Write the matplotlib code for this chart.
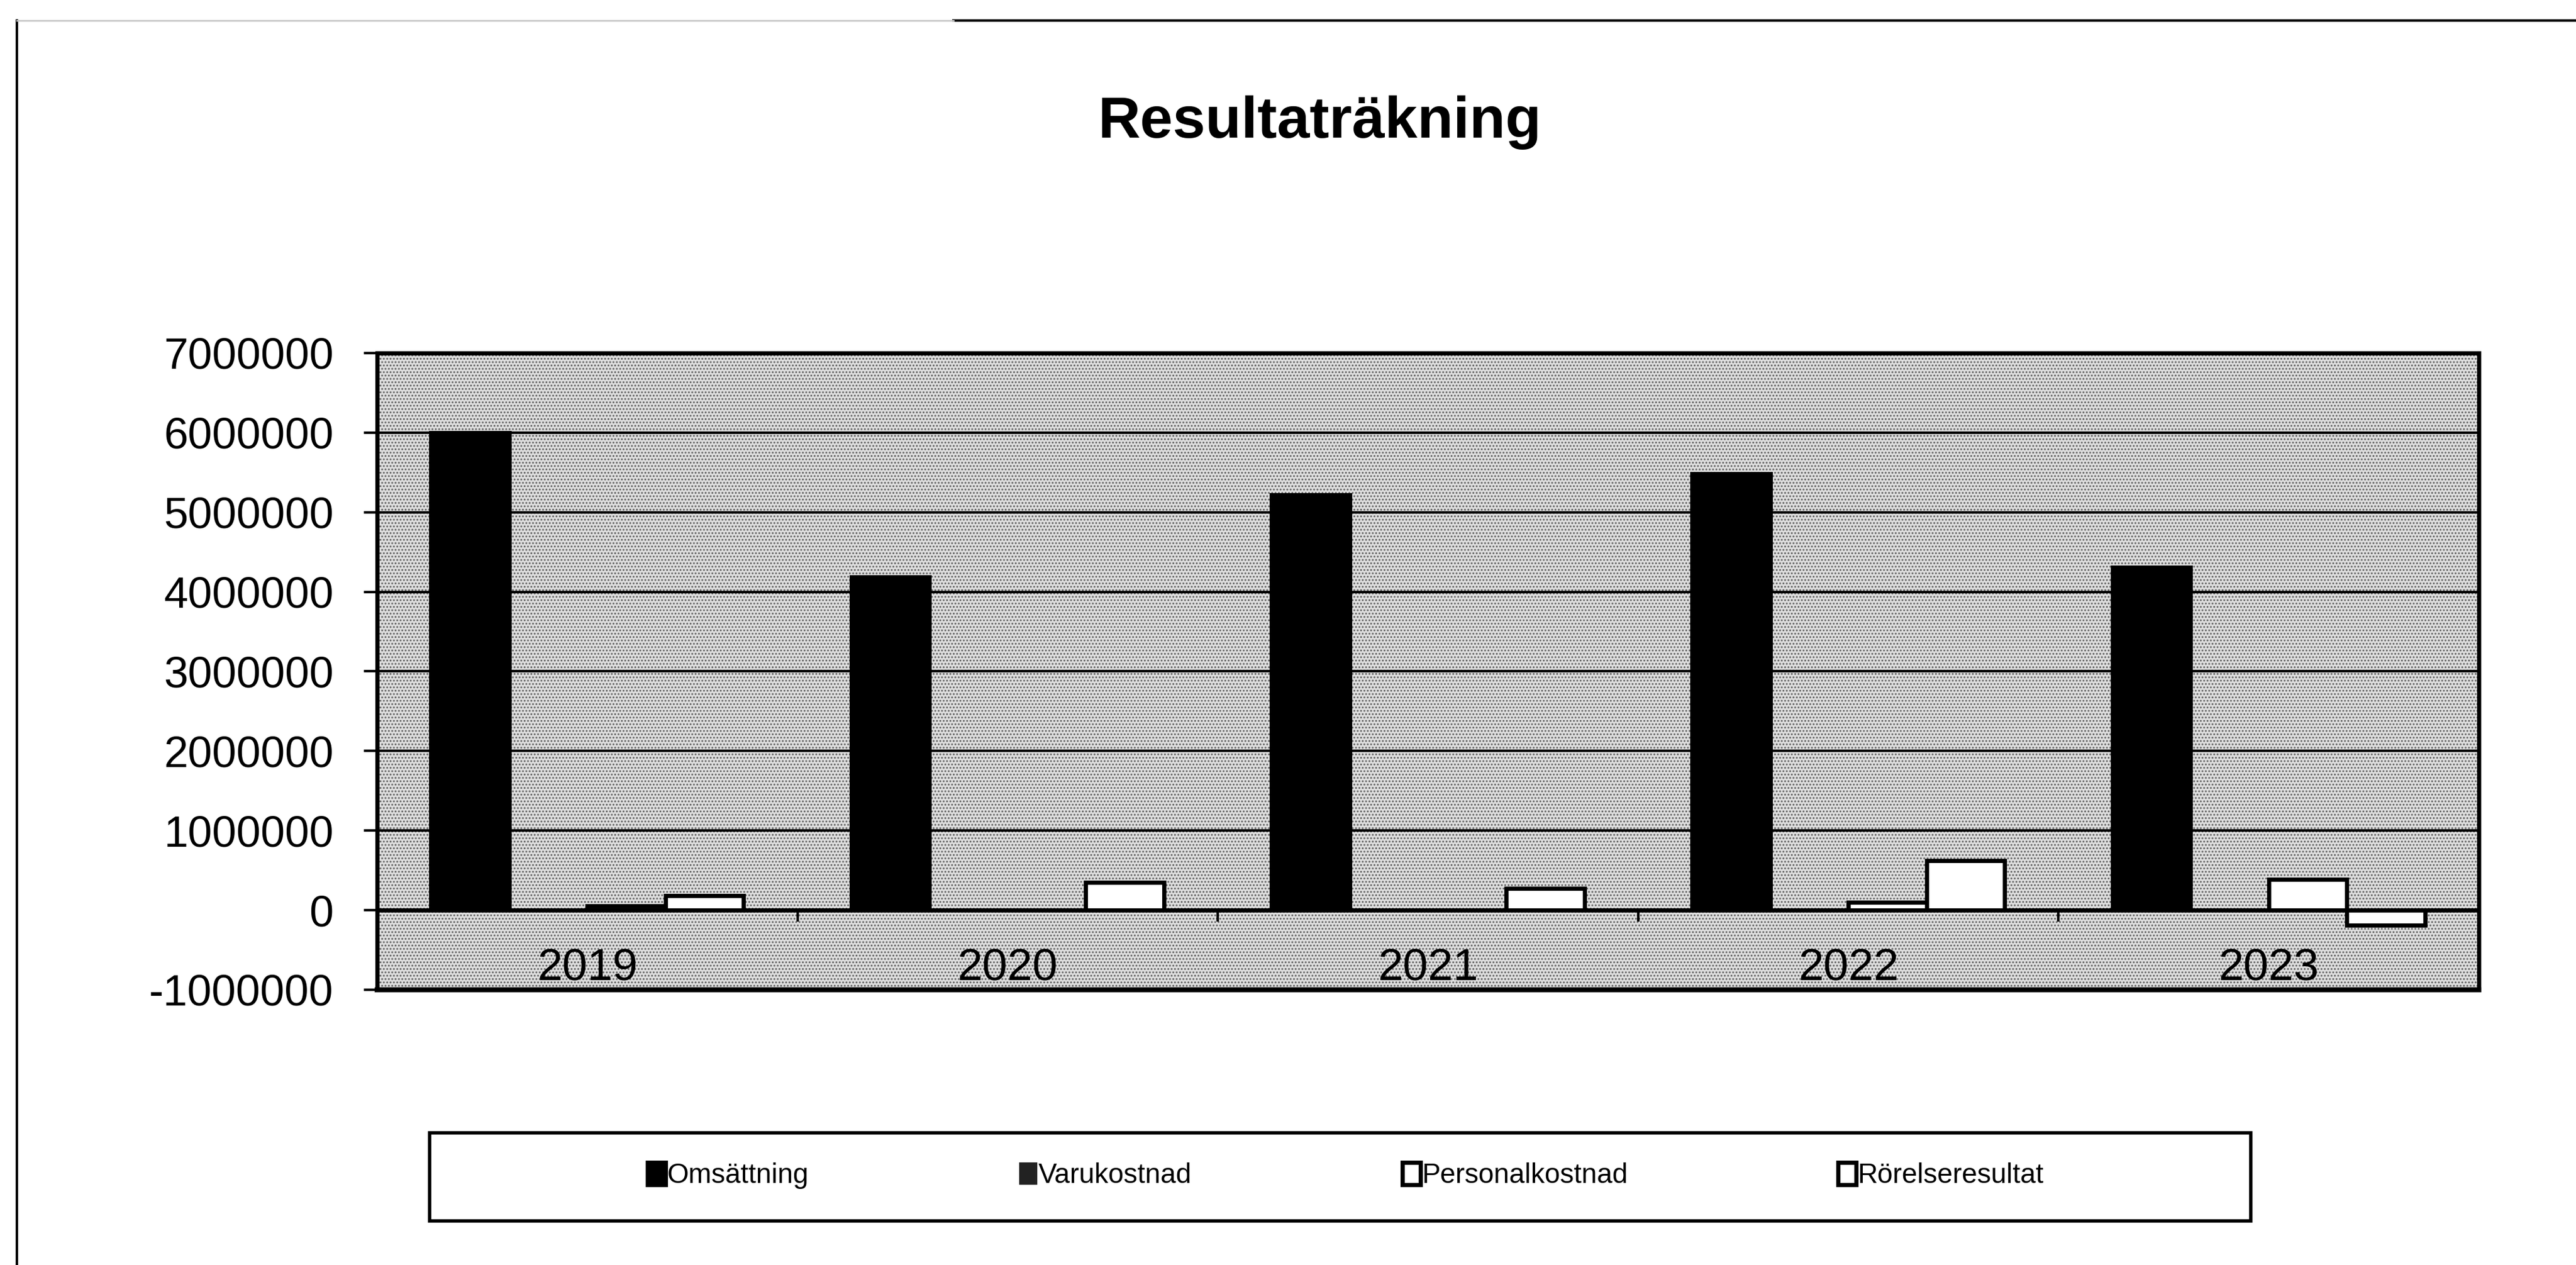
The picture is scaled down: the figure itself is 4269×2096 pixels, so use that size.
"""
plot.py - Resultaträkning, grouped bars per year (scanned Excel chart look).
"""
import matplotlib

matplotlib.use("Agg")
import matplotlib.pyplot as plt
import numpy as np
from matplotlib.lines import Line2D
from matplotlib.patches import Rectangle

plt.rcParams["font.family"] = ["Liberation Sans", "DejaVu Sans"]
plt.rcParams["hatch.linewidth"] = 1.4

years = ["2019", "2020", "2021", "2022", "2023"]
series_names = ["Omsättning", "Varukostnad", "Personalkostnad", "Rörelseresultat"]
omsattning = [6000000, 4190000, 5220000, 5480000, 4310000]
varukostnad = [0, 0, 0, 0, 0]
personalkostnad = [50000, 0, 0, 100000, 390000]
rorelseresultat = [180000, 350000, 270000, 620000, -190000]
y_ticks = [-1000000, 0, 1000000, 2000000, 3000000, 4000000, 5000000, 6000000, 7000000]

series = [omsattning, varukostnad, personalkostnad, rorelseresultat]
faces = ["black", "#222222", "white", "white"]
edges = ["black", "none", "black", "black"]

fig = plt.figure(figsize=(42.69, 20.96), dpi=100)
ax = fig.add_axes([0.1464, 0.2176, 0.8159, 0.5033])

# stippled grey plot area
ax.set_facecolor("#dedede")
ax.add_patch(Rectangle((0, 0), 1, 1, transform=ax.transAxes, facecolor="none",
                       edgecolor="#606060", hatch="...", lw=0, zorder=0.2))

x = np.arange(len(years))
width = 0.186
handles = []
for i, (vals, fc, ec) in enumerate(zip(series, faces, edges)):
    b = ax.bar(x + (i - 1.5) * width, vals, width, color=fc, edgecolor=ec,
               linewidth=5, zorder=2, label=series_names[i])
    handles.append(b)

ax.set_xlim(-0.5, len(years) - 0.5)
ax.set_ylim(y_ticks[0], y_ticks[-1])
ax.set_axisbelow(True)
ax.yaxis.grid(True, color="black", lw=3)

ax.set_yticks(y_ticks)
ax.set_yticklabels([f"{v:d}" for v in y_ticks], fontsize=52)
ax.tick_params(axis="y", direction="out", length=16, width=3, pad=36)

# category axis crosses at zero
ax.spines["bottom"].set_position(("data", 0))
ax.set_xticks(x)
ax.set_xticklabels(years, fontsize=54)
ax.tick_params(axis="x", which="major", length=0, pad=45)
ax.set_xticks(x[:-1] + 0.5, minor=True)
ax.tick_params(axis="x", which="minor", direction="out", length=14, width=3)

for s in ["left", "top", "right", "bottom"]:
    ax.spines[s].set_linewidth(5)
ax.plot([0, 1], [0, 0], transform=ax.transAxes, color="black", lw=6, clip_on=False)

fig.text(0.5123, 0.8912, "Resultaträkning", ha="center", va="baseline",
         fontsize=70, fontweight="bold")

fig.legend(handles, series_names, loc="center", bbox_to_anchor=(0.5224, 0.0706),
           ncol=4, frameon=False, fontsize=33, handlelength=0.66, handleheight=0.86,
           handletextpad=0.05, columnspacing=7.6)
fig.add_artist(Rectangle((0.1668, 0.0348), 0.707, 0.0697, transform=fig.transFigure,
                         fill=False, lw=4, edgecolor="black"))

# chart-area border (partly faded in the scan)
fig.add_artist(Line2D([0.0066, 0.0066], [0.0, 0.984], color="black", lw=3))
fig.add_artist(Line2D([0.37, 1.0], [0.984, 0.984], color="black", lw=3))
fig.add_artist(Line2D([0.0066, 0.37], [0.984, 0.984], color="#c8c8c8", lw=2))

fig.savefig("out.png", dpi=100)
